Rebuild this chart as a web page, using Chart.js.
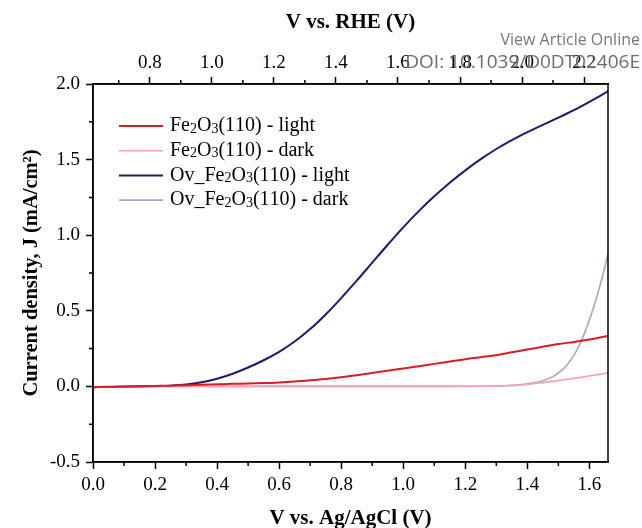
<!DOCTYPE html>
<html>
<head>
<meta charset="utf-8">
<script src="https://cdn.jsdelivr.net/npm/chart.js@4.4.0/dist/chart.umd.min.js"></script>
<style>
  body { margin: 0; background: #fff; }
  #wrap { position: relative; width: 642px; height: 528px; }
  .wm { position: absolute; right: 2px; font-family: "Open Sans", sans-serif; color: #6c6c6c; white-space: nowrap; line-height: 1.35; }
</style>
</head>
<body>
<div id="wrap">
  <canvas id="jv" width="642" height="528"></canvas>
  <div class="wm" style="top:29px;font-size:16px;color:#777;">View Article Online</div>
  <div class="wm" style="top:49px;font-size:19px;">DOI: 10.1039/D0DT02406E</div>
</div>
<script>
// potencial (V vs Ag/AgCl) e densidade de corrente (mA/cm2)
var potencial = [0.00, 0.05, 0.10, 0.15, 0.20, 0.25, 0.30, 0.35, 0.40, 0.45, 0.50, 0.55,
    0.60, 0.65, 0.70, 0.75, 0.80, 0.85, 0.90, 0.95, 1.00, 1.05, 1.10, 1.15,
    1.20, 1.25, 1.30, 1.35, 1.40, 1.45, 1.50, 1.55, 1.60, 1.65, 1.66]

var fe2o3Claro = [-0.005, -0.003, 0.000, 0.001, 0.003, 0.005, 0.008, 0.011, 0.014, 0.017, 0.019, 0.022,
    0.026, 0.032, 0.040, 0.049, 0.060, 0.074, 0.089, 0.104, 0.119, 0.134, 0.149, 0.165,
    0.180, 0.193, 0.206, 0.226, 0.244, 0.262, 0.280, 0.294, 0.310, 0.330, 0.334]

var fe2o3Escuro = [-0.004, -0.003, -0.002, -0.002, -0.001, -0.001, 0, 0, 0, 0, 0, 0,
    0, 0, 0, 0, 0, 0, 0, 0, 0, 0, 0, 0,
    0.001, 0.001, 0.002, 0.005, 0.013, 0.025, 0.038, 0.053, 0.069, 0.086, 0.090]

var ovClaro = [-0.005, -0.004, -0.002, 0.000, 0.002, 0.005, 0.012, 0.027, 0.051, 0.084, 0.125, 0.173,
    0.229, 0.297, 0.379, 0.476, 0.584, 0.699, 0.818, 0.937, 1.052, 1.159, 1.257, 1.347,
    1.429, 1.503, 1.570, 1.629, 1.682, 1.730, 1.777, 1.827, 1.882, 1.940, 1.953]

// a curva escura do Ov sobe muito no fim, por isso tem mais pontos
var potencialOvEscuro = [0.00, 0.10, 0.20, 0.30, 0.40, 0.60, 0.80, 1.00, 1.20, 1.30, 1.35, 1.40,
    1.45, 1.475, 1.50, 1.525, 1.55, 1.575, 1.60, 1.625, 1.65, 1.66]
var ovEscuro = [-0.004, -0.002, -0.001, 0, 0, 0, 0, 0, 0.000, 0.003, 0.008, 0.018,
    0.038, 0.058, 0.088, 0.135, 0.205, 0.305, 0.440, 0.600, 0.790, 0.880]

var nomes = ['Fe\u2082O\u2083(110) - light', 'Fe\u2082O\u2083(110) - dark',
    'Ov_Fe\u2082O\u2083(110) - light', 'Ov_Fe\u2082O\u2083(110) - dark']
var cores = ['#d51f26', '#f5a4ab', '#1c1c66', '#a9a5c6']

// eixo de cima: V vs RHE = V vs Ag/AgCl + deslocamento
var deslocamentoRHE = 0.617
var ticksMenoresX = [0.1, 0.3, 0.5, 0.7, 0.9, 1.1, 1.3, 1.5]
var ticksMenoresRHE = [0.7, 0.9, 1.1, 1.3, 1.5, 1.7, 1.9, 2.1]
var ticksMenoresY = [-0.25, 0.25, 0.75, 1.25, 1.75]

var fonte = 'Liberation Serif'

function pontos(xs, serie) {
    return xs.map(function (v, i) { return { x: v, y: serie[i] } })
}

var series = [
    pontos(potencial, fe2o3Claro),
    pontos(potencial, fe2o3Escuro),
    pontos(potencial, ovClaro),
    pontos(potencialOvEscuro, ovEscuro)
]
var conjuntos = series.map(function (s, i) {
    return {
        label: nomes[i],
        data: s,
        borderColor: cores[i],
        backgroundColor: cores[i],
        borderWidth: (i % 2 == 0) ? 2 : 1.6,
        pointRadius: 0,
        cubicInterpolationMode: 'monotone'
    }
})

function fonteTick() { return { family: fonte, size: 19 } }
function fonteTitulo(t) { return { family: fonte, size: t || 21, weight: 'bold', lineHeight: 1 } }

// escreve o texto com os indices (2, 3) menores
function textoComIndice(ctx, txt, x, y, tam) {
    var sub = { '\u2082': '2', '\u2083': '3' }
    for (var k = 0; k < txt.length; k++) {
        var c = txt[k]
        if (sub[c]) {
            ctx.font = Math.round(tam * 0.7) + 'px "' + fonte + '"'
            ctx.fillText(sub[c], x, y + 3)
            x += ctx.measureText(sub[c]).width
        } else {
            ctx.font = tam + 'px "' + fonte + '"'
            ctx.fillText(c, x, y)
            x += ctx.measureText(c).width
        }
    }
}

// ticks menores, moldura e legenda
var extras = {
    id: 'extras',
    afterDraw: function (chart) {
        var ctx = chart.ctx
        var area = chart.chartArea
        ctx.save()
        ctx.strokeStyle = '#000'
        ctx.lineWidth = 1.5
        ctx.strokeRect(area.left, area.top, area.right - area.left, area.bottom - area.top)

        ctx.beginPath()
        ticksMenoresX.forEach(function (v) {
            var px = chart.scales.x.getPixelForValue(v)
            ctx.moveTo(px, area.bottom); ctx.lineTo(px, area.bottom + 4)
        })
        ticksMenoresRHE.forEach(function (v) {
            var px = chart.scales.x2.getPixelForValue(v)
            ctx.moveTo(px, area.top); ctx.lineTo(px, area.top - 4)
        })
        ticksMenoresY.forEach(function (v) {
            var py = chart.scales.y.getPixelForValue(v)
            ctx.moveTo(area.left, py); ctx.lineTo(area.left - 4, py)
        })
        ctx.stroke()

        // legenda
        ctx.textBaseline = 'middle'
        ctx.fillStyle = '#000'
        chart.data.datasets.forEach(function (ds, i) {
            var y = area.top + 42 + i * 24.7
            ctx.strokeStyle = ds.borderColor
            ctx.lineWidth = ds.borderWidth
            ctx.beginPath()
            ctx.moveTo(area.left + 26, y)
            ctx.lineTo(area.left + 70, y)
            ctx.stroke()
            textoComIndice(ctx, ds.label, area.left + 77, y, 20)
        })
        ctx.restore()
    }
}

var grafico = new Chart(document.getElementById('jv'), {
    type: 'line',
    data: { datasets: conjuntos },
    options: {
        responsive: false,
        animation: false,
        layout: { padding: { right: 34 } },
        plugins: { legend: { display: false }, tooltip: { enabled: false } },
        scales: {
            x: {
                type: 'linear', position: 'bottom', min: 0, max: 1.66,
                ticks: {
                    stepSize: 0.2, includeBounds: false, autoSkip: false, maxRotation: 0,
                    padding: 5, color: '#000', font: fonteTick(),
                    callback: function (v) { return v.toFixed(1) }
                },
                grid: { drawOnChartArea: false, tickLength: 7, tickColor: '#000', tickWidth: 1.5 },
                border: { color: '#000', width: 1.5 },
                title: { display: true, text: 'V vs. Ag/AgCl (V)', color: '#000', font: fonteTitulo(), padding: { top: 0, bottom: -1 } },
                afterFit: function (s) { s.height = 66 }
            },
            x2: {
                type: 'linear', position: 'top',
                min: 0 + deslocamentoRHE, max: 1.66 + deslocamentoRHE,
                ticks: {
                    stepSize: 0.2, includeBounds: false, autoSkip: false, maxRotation: 0,
                    padding: 3, color: '#000', font: fonteTick(),
                    callback: function (v) { return v.toFixed(1) }
                },
                grid: { drawOnChartArea: false, tickLength: 7, tickColor: '#000', tickWidth: 1.5 },
                border: { color: '#000', width: 1.5 },
                title: { display: true, text: 'V vs. RHE (V)', color: '#000', font: fonteTitulo(), padding: { top: 12, bottom: 0 } },
                afterFit: function (s) { s.height = 84 }
            },
            y: {
                min: -0.5, max: 2.0,
                ticks: {
                    stepSize: 0.5, includeBounds: false, color: '#000', font: fonteTick(), padding: 6,
                    callback: function (v) { return v.toFixed(1) }
                },
                grid: { drawOnChartArea: false, tickLength: 7, tickColor: '#000', tickWidth: 1.5 },
                border: { color: '#000', width: 1.5 },
                title: { display: true, text: 'Current density, J (mA/cm\u00b2)', color: '#000', font: fonteTitulo(20.5), padding: { top: 21, bottom: 0 } },
                afterFit: function (s) { s.width = 93 }
            }
        }
    },
    plugins: [extras]
})
</script>
</body>
</html>
